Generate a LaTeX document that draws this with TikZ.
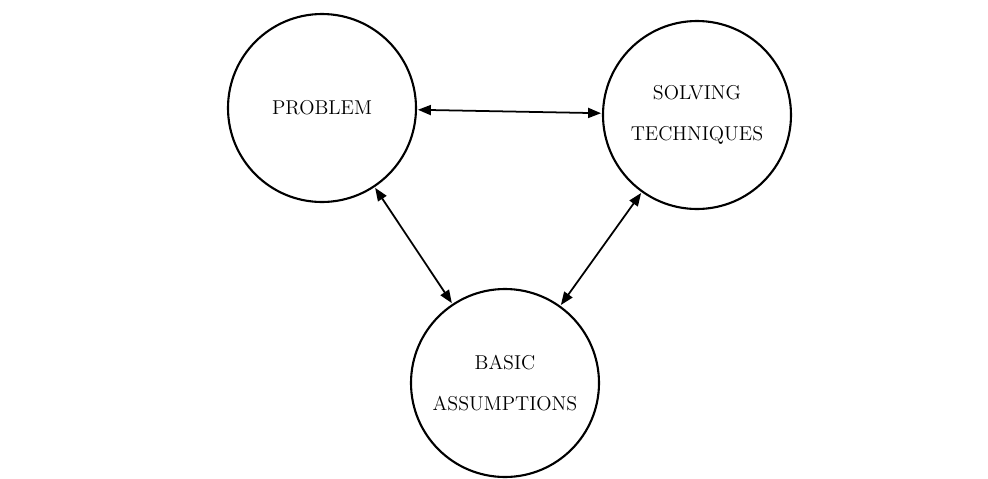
\documentclass[tikz,border=0pt]{standalone}
\usepackage{amsmath}
\usetikzlibrary{arrows, arrows.meta}
\usetikzlibrary{calc}

\begin{document}
\begin{tikzpicture}[
    topic/.style={circle, draw, line width=1.2pt, inner sep=0pt, minimum size=37.6mm,
      align=center, font=\fontsize{11.4}{23}\selectfont},
    link/.style={{Triangle[length=2.6mm, width=2mm]}-{Triangle[length=2.6mm, width=2mm]}, line width=1pt, shorten <=0.5pt, shorten >=0.5pt}
  ]
      \useasboundingbox (0,0) rectangle (19.76,-9.58);

      \node[topic] (problem) at (6.44,-2.16) {PROBLEM};
      \node[topic] (solving) at (13.94,-2.30) {SOLVING\\TECHNIQUES};
      \node[topic] (basic) at (10.10,-7.66) {BASIC\\ASSUMPTIONS};

      \draw[link] (problem) -- (solving);
      \draw[link] (problem) -- (basic);
      \draw[link] (solving) -- (basic);
    \end{tikzpicture}
\end{document}
